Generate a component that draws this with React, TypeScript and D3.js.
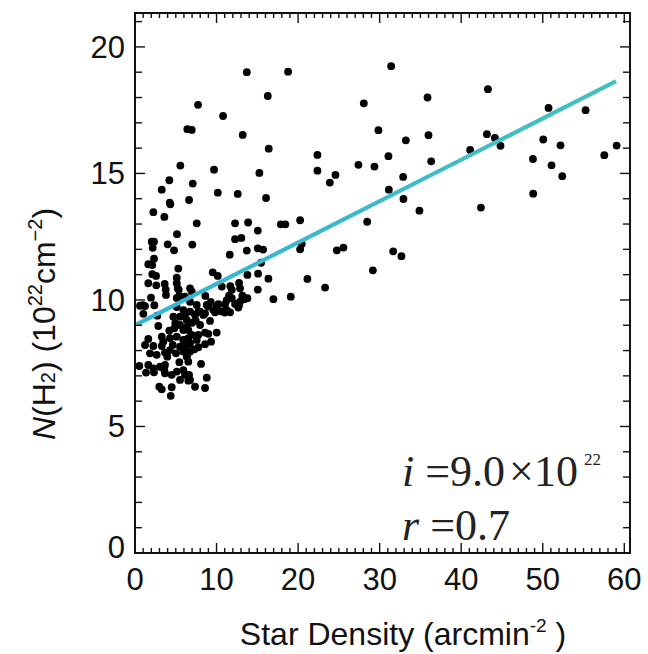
import React from "react";
import * as d3 from "d3";

// Star density (arcmin^-2)
const starDensity: number[] = [
  13.71, 18.77, 16.28, 7.73, 10.8, 6.42, 6.96, 13.21, 16.4, 31.41, 43.28, 28.06, 35.87, 50.71, 55.25, 29.85, 33.21, 35.99, 43.15, 44.13,
  44.82, 41.1, 50.06, 52.18, 59.06, 57.55, 22.37, 31.08, 36.32, 27.4, 29.36, 48.8, 51.08, 22.37, 24.58, 23.89, 32.88, 52.39, 31.13, 32.92,
  48.83, 34.88, 42.42, 20.25, 28.47, 20.45, 20.25, 24.75, 25.56, 31.66, 32.67, 29.17, 21.14, 23.31, 15.25, 12.6, 16.07, 12.27, 13.87, 17.88,
  18.44, 15.06, 12.27, 13.04, 13.71, 15.06, 15.71, 15.46, 13.78, 15.09, 16.36, 12.76, 15.06, 16.97, 19.1, 12.27, 12.88, 13.41, 13.78, 5.56,
  9.69, 4.21, 7.08, 3.28, 10.15, 4.26, 4.33, 6.63, 2.25, 3.6, 7.57, 5.15, 2.05, 2.33, 4.01, 7.03, 2.17, 4.79, 11.62, 2.33,
  1.63, 2.12, 5.31, 2.12, 2.58, 9.53, 10.15, 1.63, 2.61, 3.64, 5.12, 5.12, 3.77, 5.36, 3.8, 5.12, 10.64, 11.69, 11.87, 11.53,
  11.25, 12.76, 1.96, 0.94, 1.23, 2.37, 1.02, 2.74, 6.75, 8.63, 9.29, 8.99, 10.02, 9.61, 10.52, 11.66, 11.01, 7.45, 4.7, 4.94,
  4.82, 12.88, 6.75, 6.96, 11.87, 6.13, 8.8, 10.22, 11.04, 12.67, 11.25, 13.17, 7.77, 8.59, 9.82, 2.86, 5.52, 6.13, 5.52, 6.34,
  4.21, 5.93, 3.28, 4.29, 5.12, 5.93, 6.54, 1.23, 2.25, 3.28, 4.63, 5.52, 6.13, 1.84, 2.66, 3.68, 3.96, 5.03, 5.93, 6.42,
  5.44, 6.54, 0.53, 1.63, 2.25, 3.07, 3.6, 1.35, 2.33, 5.12, 5.93, 6.13, 3.68, 4.5, 5.52, 6.54, 2.98, 3.28, 4.5, 4.38,
  6.75, 7.36, 8.38, 7.98, 6.34, 6.54, 6.96, 6.75, 6.34, 6.75, 6.34, 8.59, 8.99, 10.02, 9.33, 8.59, 7.77, 7.28, 8.1, 6.63,
  6.75, 8.8, 7.36, 8.59, 7.98, 9.2, 1.63, 7.57, 7.77, 3.47, 5.93, 5.12, 5.24, 5.44, 3.68, 4.29, 6.99, 7.57, 0.61,
];

// N(H2) column density (10^22 cm^-2)
const columnDensity: number[] = [
  19.0, 19.02, 18.06, 17.71, 17.27, 16.75, 16.72, 16.52, 15.98, 19.24, 18.33, 17.77, 18.0, 17.59, 17.5, 16.71, 16.31, 16.51, 16.55, 16.4,
  16.09, 15.93, 16.34, 16.11, 16.1, 15.72, 15.73, 15.68, 15.48, 15.34, 15.27, 15.57, 15.32, 15.11, 14.94, 14.64, 14.86, 14.89, 14.36, 13.99,
  14.2, 13.53, 13.65, 13.15, 13.09, 12.21, 12.0, 11.96, 12.07, 11.92, 11.73, 11.17, 10.83, 10.49, 15.02, 14.19, 14.03, 13.03, 13.06, 12.99,
  12.99, 12.74, 12.4, 12.45, 11.95, 12.04, 11.99, 11.47, 10.99, 11.04, 10.84, 10.67, 10.41, 10.03, 10.13, 9.84, 9.93, 10.03, 10.07, 15.31,
  15.15, 14.73, 14.6, 14.36, 14.24, 13.85, 13.78, 13.95, 13.47, 13.28, 13.03, 12.6, 12.3, 12.3, 12.2, 12.19, 12.06, 11.96, 11.79, 11.63,
  11.41, 11.38, 11.24, 11.02, 10.95, 11.09, 10.95, 10.66, 10.58, 10.63, 10.88, 10.66, 10.41, 10.4, 10.2, 10.08, 10.53, 10.55, 10.4, 10.17,
  9.99, 9.79, 10.09, 9.79, 9.76, 9.79, 9.45, 9.38, 9.93, 10.16, 9.92, 9.74, 9.74, 9.6, 9.55, 9.51, 9.5, 9.18, 9.34, 9.08,
  8.88, 10.46, 10.46, 10.33, 10.07, 10.13, 9.8, 9.83, 9.83, 9.7, 9.6, 10.17, 9.54, 9.47, 9.51, 8.97, 9.34, 9.41, 9.01, 8.94,
  8.79, 8.81, 8.55, 8.49, 8.55, 8.42, 8.49, 8.22, 8.18, 8.18, 8.22, 8.15, 8.29, 7.89, 7.83, 7.92, 7.76, 7.89, 7.96, 7.83,
  7.54, 7.56, 7.39, 7.43, 7.3, 7.36, 7.23, 7.13, 7.14, 7.17, 7.23, 7.04, 7.1, 7.04, 6.84, 6.81, 6.57, 6.47, 6.55, 6.21,
  9.54, 9.41, 9.41, 9.54, 9.21, 8.81, 8.62, 8.29, 8.09, 7.96, 7.76, 8.71, 8.66, 8.71, 8.35, 8.25, 8.13, 8.05, 7.47, 7.04,
  6.84, 6.93, 6.57, 6.52, 9.01, 9.17, 8.46, 8.42, 8.62, 8.35, 9.6, 9.72, 10.46, 10.16, 7.43, 8.02, 9.1, 9.8, 9.77,
];

// Linear fit: N(H2) = intercept + slope * density
const fitIntercept = 9.0;
const fitSlope = 0.1635;
const fitRange: number[] = [0.2, 59.0];

const xTickLabels: number[] = [0, 10, 20, 30, 40, 50, 60];
const yTickLabels: number[] = [0, 5, 10, 15, 20];

const W = 648;
const H = 654;
const left = 135;
const right = 630;
const top = 13;
const bottom = 553;

export default function App() {
  const x = d3.scaleLinear().domain([0, 60.7]).range([left, right]);
  const y = d3.scaleLinear().domain([0, 21.34]).range([bottom, top]);

  const xMinor = d3.range(0, 61, 1);
  const yMinor = d3.range(0, 22, 1);

  const line = d3
    .line<number>()
    .x((d) => x(d))
    .y((d) => y(fitIntercept + fitSlope * d));

  const sans = "'Liberation Sans', Arial, Helvetica, sans-serif";
  const serif = "'Liberation Serif', 'Times New Roman', serif";
  const ink = "#111";

  return (
    <svg
      width={W}
      height={H}
      viewBox={`0 0 ${W} ${H}`}
      style={{ position: "absolute", left: 0, top: 0, background: "#fff" }}
    >
      <defs>
        <linearGradient id="fitGrad" gradientUnits="userSpaceOnUse" x1={x(fitRange[0])} y1={0} x2={x(fitRange[1])} y2={0}>
          <stop offset="0%" stopColor="#34b5d4" />
          <stop offset="100%" stopColor="#45c0c0" />
        </linearGradient>
      </defs>
      <rect x={0} y={0} width={W} height={H} fill="#fff" />

      {/* points */}
      <g fill="#000">
        {starDensity.map((d, i) => (
          <circle key={i} cx={x(d)} cy={y(columnDensity[i])} r={3.9} />
        ))}
      </g>

      {/* fit line */}
      <path d={line(fitRange) || ""} fill="none" stroke="url(#fitGrad)" strokeWidth={4.2} strokeLinecap="butt" />

      {/* ticks */}
      <g stroke={ink} strokeWidth={1.4}>
        {xMinor.map((t) => {
          const len = t % 10 === 0 ? 10 : 5;
          const px = x(t);
          return (
            <g key={"xt" + t}>
              <line x1={px} x2={px} y1={bottom} y2={bottom - len} />
              <line x1={px} x2={px} y1={top} y2={top + len} />
            </g>
          );
        })}
        {yMinor.map((t) => {
          const len = t % 5 === 0 ? 10 : 7;
          const py = y(t);
          return (
            <g key={"yt" + t}>
              <line x1={left} x2={left + len} y1={py} y2={py} />
              <line x1={right} x2={right - len} y1={py} y2={py} />
            </g>
          );
        })}
      </g>

      {/* frame */}
      <rect x={left} y={top} width={right - left} height={bottom - top} fill="none" stroke={ink} strokeWidth={2} />

      {/* tick labels */}
      <g fontFamily={sans} fontSize={31} fill={ink}>
        {xTickLabels.map((t) => (
          <text key={"xl" + t} x={x(t)} y={590} textAnchor="middle">
            {t}
          </text>
        ))}
        {yTickLabels.map((t) => (
          <text key={"yl" + t} x={125} y={y(t) + (t === 0 ? 5 : 11)} textAnchor="end">
            {t}
          </text>
        ))}
      </g>

      {/* axis titles */}
      <text x={403} y={645} textAnchor="middle" fontFamily={sans} fontSize={32} fill={ink}>
        Star Density (arcmin
        <tspan fontSize={19} dy={-13}>-2</tspan>
        <tspan dy={13}> )</tspan>
      </text>
      <text
        transform={`translate(55, ${324}) rotate(-90)`}
        textAnchor="middle"
        fontFamily={sans}
        fontSize={32}
        fill={ink}
      >
        <tspan fontStyle="italic">N</tspan>
        (H
        <tspan fontSize={20} dy={0}>2</tspan>
        <tspan>)  (10</tspan>
        <tspan fontSize={20} dy={-13}>22</tspan>
        <tspan dy={13}>cm</tspan>
        <tspan fontSize={20} dy={-13}>−2</tspan>
        <tspan dy={13}>)</tspan>
      </text>

      {/* annotation */}
      <g fontFamily={serif} fill="#222">
        <text x={402} y={486} fontSize={44}>
          <tspan fontStyle="italic">i</tspan>
          <tspan> =9.0</tspan>
          <tspan dx={4}>×</tspan>
          <tspan>10</tspan>
          <tspan fontSize={17} dx={6} dy={-21}>22</tspan>
        </text>
        <text x={402} y={540} fontSize={44}>
          <tspan fontStyle="italic">r</tspan>
          <tspan> =0.7</tspan>
        </text>
      </g>
    </svg>
  );
}
